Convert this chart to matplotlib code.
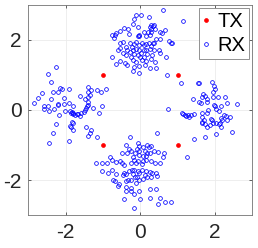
import matplotlib
matplotlib.use("Agg")
import matplotlib.pyplot as plt

# transmitter positions
tx_x = [-1, 1, -1, 1]
tx_y = [1, 1, -1, -1]

# received samples
top_x = [0.62, -0.12, 0.01, 0.23, 1.15, -0.16, -0.20, -0.07, -0.44, -0.55, -0.64, -0.76, -0.68, -0.70,
         -0.34, -0.30, 0.30, 0.37, 0.25, 0.34, 0.28, 0.39, 0.21, 0.30, 0.25, -0.04, -0.06, -0.02, 0.52,
         0.59, 0.66, 0.09, 0.16, 0.43, 0.52, 0.37, 0.76, 0.82, 0.85, -0.55, -0.46, -0.39, -0.53, -0.59,
         -0.28, -0.23, -0.16, -0.11, -0.02, 0.04, 0.09, 0.16, 0.23, 0.29, 0.34, -0.36, -0.28, -0.20,
         -0.11, -0.04, 0.03, 0.09, 0.16, 0.25, 0.37, 0.50, 0.53, -0.46, -0.37, -0.25, -0.18, -0.07,
         0.00, 0.11, 0.18, 0.32, -0.75, -0.55, -0.64, -0.20, -0.11, 0.04, 0.16, 0.28, 0.39, 0.68,
         -0.36, -0.18, -0.02, 0.12, 0.25, 0.43, -0.20, -0.02, -0.41]
top_y = [2.86, 2.72, 2.72, 2.65, 2.55, 2.59, 2.46, 2.38, 2.34, 2.27, 2.21, 2.13, 2.13, 2.06,
         2.30, 2.17, 2.44, 2.44, 2.38, 2.40, 2.32, 2.30, 2.23, 2.23, 2.15, 2.15, 2.10, 2.10, 2.23,
         2.19, 2.29, 2.23, 2.10, 2.04, 2.02, 1.92, 1.98, 1.90, 1.92, 1.90, 1.94, 1.81, 1.77, 1.71,
         1.90, 1.81, 1.89, 1.94, 1.85, 1.90, 1.85, 1.89, 1.92, 1.83, 1.90, 1.71, 1.66, 1.71,
         1.73, 1.70, 1.64, 1.71, 1.70, 1.73, 1.70, 1.71, 1.64, 1.62, 1.56, 1.50, 1.60, 1.56,
         1.52, 1.52, 1.60, 1.58, 1.52, 1.41, 1.31, 1.43, 1.37, 1.43, 1.41, 1.45, 1.37, 1.50,
         1.28, 1.24, 1.26, 1.28, 1.20, 1.20, 1.12, 1.07, 1.35]

left_x = [-2.26, -2.48, -2.39, -2.64, -2.86, -2.73, -2.58, -2.48, -2.44, -2.58, -2.33, -2.20, -2.16,
          -2.09, -1.91, -2.04, -1.90, -2.04, -2.20, -2.21, -2.39, -2.30, -2.18, -2.27, -2.33, -2.44,
          -1.91, -1.86, -1.89, -1.80, -1.84, -1.87, -1.81, -1.80, -1.75, -1.69, -1.61, -1.66, -1.59,
          -1.50, -1.48, -1.46, -1.43, -1.41, -1.40, -1.41, -1.31, -1.35, -1.17, -1.06, -0.92, -1.62,
          -1.48, -1.41, -1.40, -1.26, -1.02, -1.11, -1.46, -1.31, -1.35, -1.40, -1.15, -1.81, -1.88,
          -1.84, -2.02, -1.80]
left_y = [1.22, 1.03, 0.80, 0.48, 0.21, 0.33, 0.10, 0.10, -0.02, 0.02, 0.52, 0.50, 0.63,
          0.59, 0.61, 0.33, 0.21, 0.17, 0.16, 0.13, 0.30, 0.04, -0.14, -0.40, -0.65, -0.95,
          -0.90, -0.48, -0.46, -0.38, -0.33, -0.10, -0.08, -0.11, -0.14, -0.11, -0.17, -0.11, -0.10,
          -0.07, 0.00, 0.05, 0.10, 0.38, 0.52, 0.67, 0.57, 0.43, 0.57, 0.51, 0.59, 0.40,
          0.30, 0.24, 0.14, 0.07, 0.10, -0.10, -0.48, -0.57, -0.65, -0.74, -0.76, 0.10, -0.02,
          -0.05, -0.02, -0.57]

right_x = [0.73, 1.10, 1.54, 1.58, 1.92, 1.98, 2.01, 1.96, 1.42, 1.69, 1.65, 1.74, 1.58, 1.63, 1.78,
           1.80, 1.94, 2.09, 2.28, 2.34, 2.60, 1.97, 2.01, 2.16, 2.10, 2.03, 1.82, 1.78, 1.67, 1.65,
           1.72, 1.67, 1.74, 1.90, 1.92, 1.94, 2.04, 2.10, 2.13, 2.17, 2.19, 2.16, 2.25, 2.29, 2.40,
           2.33, 2.45, 2.04, 1.74, 1.45, 0.75, 1.12, 1.16, 1.21, 1.24, 1.28, 1.32, 1.35, 1.44, 1.65,
           1.80, 1.87, 1.25]
right_y = [1.00, 0.76, 0.78, 0.78, 0.80, 0.69, 0.61, 0.50, 0.32, 0.46, 0.38, 0.40, 0.23, 0.19, 0.23,
           0.30, 0.36, 0.36, 0.38, 0.21, 0.17, 0.15, 0.10, 0.10, -0.04, 0.02, 0.00, -0.08, -0.10, -0.19,
           -0.29, -0.33, -0.40, -0.27, -0.30, -0.36, -0.38, -0.40, -0.36, -0.48, -0.29, -0.24, -0.14,
           -0.17, -0.19, -0.29, -0.62, -0.69, -0.76, -0.84, 0.04, -0.10, -0.11, -0.15, -0.17, -0.13,
           -0.19, -0.13, -0.11, -0.38, -0.48, -0.42, -1.33]

bottom_x = [-0.27, 0.45, -0.37, -0.30, -0.25, -0.36, -0.48, -0.07, -0.02, 0.07, 0.18, 0.23, 0.28, 0.36,
            0.47, -0.09, -0.04, -0.15, 0.65, 0.12, 0.18, 0.27, 0.16, -0.82, -0.75, -0.64, -0.89, -1.19,
            -1.03, -0.53, -0.48, -0.43, -0.20, -0.16, -0.11, -0.05, -0.25, -0.02, 0.07, 0.04, 0.07, 0.16,
            0.30, 0.39, 0.53, 0.60, -1.03, -0.87, -0.76, -0.66, -0.46, -0.43, -0.39, -0.30, -0.23, -0.16,
            -0.07, -0.02, 0.05, 0.16, 0.25, 0.32, 0.43, -0.20, -0.14, -0.09, 0.12, 0.18, 0.28, 0.44,
            -0.73, -0.68, -0.57, -0.37, -0.32, -0.25, -0.11, -0.04, 0.07, -0.60, -0.37, -0.25, -0.37,
            -0.25, -0.18, -0.04, 0.25, 0.43, 0.25, 0.52, -0.43, 0.00, 0.66, 0.82, 0.48, -0.16]
bottom_y = [-0.76, -0.67, -1.00, -1.12, -1.16, -1.22, -1.22, -0.93, -1.03, -1.07, -0.99, -1.07, -1.03,
            -1.16, -1.20, -1.12, -1.18, -1.24, -1.24, -1.16, -1.24, -1.22, -1.31, -1.35, -1.43, -1.49,
            -1.52, -1.52, -1.52, -1.47, -1.52, -1.58, -1.35, -1.43, -1.52, -1.47, -1.52, -1.28, -1.31,
            -1.54, -1.47, -1.43, -1.45, -1.52, -1.50, -1.35, -1.73, -1.79, -1.71, -1.83, -1.85, -1.79,
            -1.83, -1.73, -1.71, -1.70, -1.73, -1.81, -1.70, -1.73, -1.77, -1.79, -1.79, -1.83, -1.90,
            -1.92, -1.87, -1.92, -1.90, -1.89, -2.00, -2.02, -2.10, -2.02, -2.00, -2.00, -2.08, -2.00,
            -1.96, -2.17, -2.19, -2.23, -2.30, -2.32, -2.40, -2.32, -2.25, -2.27, -2.50, -2.50, -2.55,
            -2.55, -2.63, -2.63, -2.69, -2.80]

ticks = [-2, 0, 2]

plt.rcParams["font.family"] = ["Liberation Sans", "DejaVu Sans"]
plt.rcParams["axes.unicode_minus"] = False

fig = plt.figure(figsize=(2.58, 2.48), dpi=100)
ax = fig.add_axes([0.110, 0.133, 0.867, 0.847])

rx_x = top_x + left_x + right_x + bottom_x
rx_y = top_y + left_y + right_y + bottom_y

ax.plot(tx_x, tx_y, "o", color="red", ms=2.8, mew=0.5, label="TX", zorder=3)
ax.plot(rx_x, rx_y, "o", mfc="none", mec="blue", ms=2.7, mew=0.55, label="RX", zorder=2)

ax.set_xlim(-3, 3)
ax.set_ylim(-3, 3)
ax.set_xticks(ticks)
ax.set_yticks(ticks)
ax.tick_params(direction="in", top=True, right=True, length=2.5, width=0.5,
               labelsize=15, colors="0.15")
ax.tick_params(axis="x", pad=6)
ax.tick_params(axis="y", pad=5)
ax.grid(color="0.92", lw=0.6)
ax.set_axisbelow(True)
for s in ax.spines.values():
    s.set_color("0.45")
    s.set_linewidth(0.6)

leg = ax.legend(loc="upper right", fontsize=14.5, handlelength=0.3, handletextpad=0.4,
                borderpad=0.2, labelspacing=0.25, borderaxespad=0.15, fancybox=False,
                framealpha=1, markerscale=1.0)
leg.get_frame().set_edgecolor("0.5")
leg.get_frame().set_linewidth(0.6)

fig.savefig("out.png", dpi=100)
